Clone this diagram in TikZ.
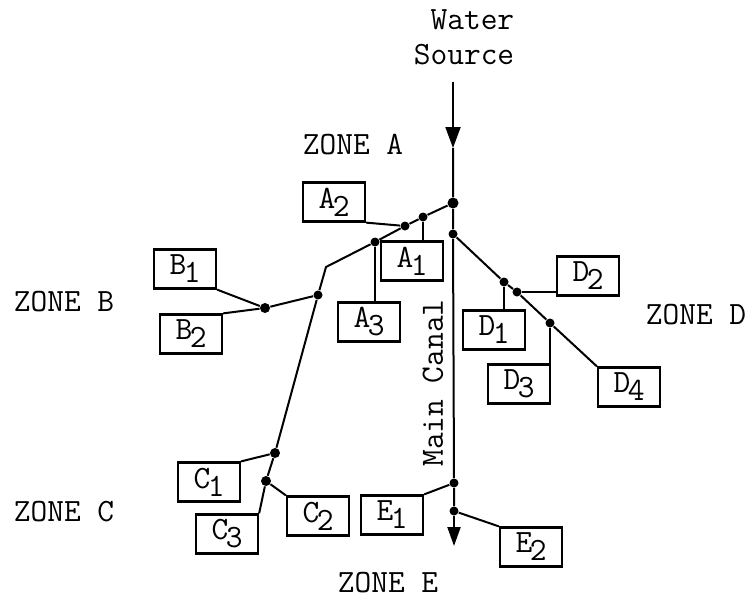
\documentclass[tikz,border=0pt]{standalone}
\usetikzlibrary{arrows.meta}
\tikzstyle{plot} = [rectangle, draw, line width=0.9pt, minimum width=24.8pt,
    minimum height=15.6pt, inner sep=0pt, font=\ttfamily\fontsize{13}{15}\selectfont]
\tikzstyle{joint} = [circle, fill=black, inner sep=0pt, minimum size=3.6pt]
\tikzstyle{zone} = [font=\ttfamily\fontsize{13}{14}\selectfont]
\tikzstyle{canal} = [black, line width=0.8pt]
\newcommand{\plotname}[2]{#1\kern-1pt\raisebox{-3.2pt}{#2}}

\begin{document}
\begin{tikzpicture}[x=0.4pt,y=-0.4pt]
  \useasboundingbox (0,0) rectangle (750,600);
  % Place labels
  \node [zone, align=right] (source) at (464,37) {Water\\Source};
  \node [zone] (zoneA) at (353,145) {ZONE A};
  \node [zone] (zoneB) at (64,302) {ZONE B};
  \node [zone] (zoneC) at (64,512) {ZONE C};
  \node [zone] (zoneD) at (696,315) {ZONE D};
  \node [zone] (zoneE) at (388,583) {ZONE E};
  \node [zone, rotate=90] (canalname) at (433,383) {Main Canal};
  % Place junctions
  \coordinate (src) at (453,82);
  \coordinate (midtip) at (453,148);
  \coordinate (mouth) at (454,546);
  \node [joint, minimum size=4.4pt] (ja) at (453,203) {};
  \node [joint] (jd) at (453,234) {};
  \node [joint] (je1) at (454,483) {};
  \node [joint] (je2) at (454,511) {};
  \node [joint] (ta1) at (423,217) {};
  \node [joint] (ta2) at (405,226) {};
  \node [joint] (ta3) at (375,242) {};
  \coordinate (bend) at (326,267);
  \node [joint] (jb) at (318,295) {};
  \node [joint, minimum size=4pt] (tb) at (265,308) {};
  \node [joint, minimum size=4pt] (jc1) at (275,453) {};
  \node [joint, minimum size=4pt] (jc2) at (266,481) {};
  \node [joint] (jd1) at (504,282) {};
  \node [joint] (jd2) at (517,292) {};
  \node [joint] (jd3) at (550,323) {};
  % Place boxes
  \node [plot] (A1) at (412,261) {\plotname{A}{1}};
  \node [plot] (A2) at (334,202) {\plotname{A}{2}};
  \node [plot] (A3) at (369,322) {\plotname{A}{3}};
  \node [plot] (B1) at (185,269) {\plotname{B}{1}};
  \node [plot] (B2) at (191,334) {\plotname{B}{2}};
  \node [plot] (C1) at (209,482) {\plotname{C}{1}};
  \node [plot] (C2) at (318,516) {\plotname{C}{2}};
  \node [plot] (C3) at (227,534) {\plotname{C}{3}};
  \node [plot] (D1) at (494,330) {\plotname{D}{1}};
  \node [plot] (D2) at (588,276) {\plotname{D}{2}};
  \node [plot] (D3) at (519,384) {\plotname{D}{3}};
  \node [plot] (D4) at (629,387) {\plotname{D}{4}};
  \node [plot] (E1) at (392,515) {\plotname{E}{1}};
  \node [plot] (E2) at (531,547) {\plotname{E}{2}};
  % Main canal
  \draw [canal, -{Triangle[length=8.4pt,width=6pt]}] (src) -- (midtip);
  \draw [canal] (midtip) -- (ja) -- (jd) -- (je1) -- (je2);
  \draw [canal, -{Triangle[length=7.6pt,width=5.2pt]}] (je2) -- (mouth);
  % Branch to zones A, B and C
  \draw [canal] (ja) -- (ta1) -- (ta2) -- (ta3) -- (bend) -- (jb) -- (jc1) -- (jc2) -- (C3.north east);
  \draw [canal] (ta1) -- (ta1 |- A1.north);
  \draw [canal] (A2.south east) -- (ta2);
  \draw [canal] (ta3) -- (ta3 |- A3.north);
  \draw [canal] (jb) -- (tb);
  \draw [canal] (B1.south east) -- (tb);
  \draw [canal] (B2.north east) -- (tb);
  \draw [canal] (C1.north east) -- (jc1);
  \draw [canal] (jc2) -- (C2.north west);
  % Branch to zone D
  \draw [canal] (jd) -- (jd1) -- (jd2) -- (jd3) -- (D4.north west);
  \draw [canal] (jd1) -- (jd1 |- D1.north);
  \draw [canal] (jd2) -- (jd2 -| D2.west);
  \draw [canal] (jd3) -- (jd3 |- D3.north);
  % Zone E
  \draw [canal] (E1.north east) -- (je1);
  \draw [canal] (je2) -- (E2.north west);
\end{tikzpicture}
\end{document}
